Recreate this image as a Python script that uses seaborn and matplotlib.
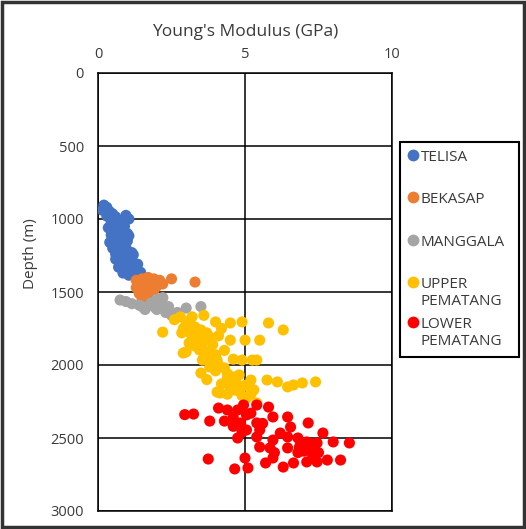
import matplotlib
matplotlib.use("Agg")
import matplotlib.pyplot as plt
import seaborn as sns
import pandas as pd
from matplotlib.patches import Rectangle
from matplotlib.lines import Line2D

# ---------------- data (Young's modulus GPa, depth m) ----------------
telisa_x = [0.2, 0.3, 0.15, 0.4, 0.5, 0.3, 0.6, 0.95, 1.05, 0.8, 0.45, 0.7, 0.9, 0.35, 0.6, 0.8,
            1.0, 1.05, 0.45, 0.7, 0.9, 1.0, 0.4, 0.6, 0.8, 0.95, 0.5, 0.7, 0.9, 1.15, 0.6, 0.8,
            1.0, 1.2, 0.6, 0.75, 0.95, 1.2, 1.35, 0.85, 1.05, 0.7, 1.3, 0.95, 1.15, 1.45, 1.3,
            0.85, 1.05, 1.45]
telisa_y = [905, 920, 940, 950, 965, 980, 985, 975, 1000, 1010, 1020, 1040, 1050, 1060, 1075, 1090,
            1100, 1115, 1110, 1130, 1140, 1150, 1160, 1170, 1180, 1195, 1200, 1210, 1220, 1230, 1240, 1250,
            1260, 1245, 1275, 1285, 1290, 1300, 1310, 1320, 1330, 1330, 1340, 1350, 1360, 1365, 1380,
            1370, 1385, 1395]

bekasap_x = [1.3, 1.5, 1.7, 1.9, 2.1, 1.4, 1.6, 1.8, 2.0, 2.2, 1.3, 1.5, 1.7, 1.9, 1.4, 1.6, 1.8,
             2.2, 1.5, 2.5, 3.3]
bekasap_y = [1420, 1410, 1400, 1410, 1420, 1440, 1450, 1440, 1460, 1445, 1470, 1480, 1475, 1490,
             1510, 1520, 1505, 1540, 1550, 1410, 1432]

manggala_x = [0.75, 0.95, 1.15, 1.5, 1.6, 1.8, 1.9, 2.0, 2.1, 2.2, 2.0, 2.3, 2.5, 2.7, 3.0, 3.5,
              1.4, 2.4]
manggala_y = [1555, 1565, 1580, 1600, 1620, 1575, 1600, 1550, 1580, 1540, 1620, 1640, 1660, 1640,
              1610, 1600, 1590, 1600]

upper_x = [2.2, 2.8, 3.2, 3.6, 4.0, 4.5, 4.9, 5.8, 6.3, 5.5, 5.0, 4.5, 2.85, 2.9, 3.45, 3.5, 4.05,
           4.9, 5.4, 4.4, 4.8, 5.2, 5.75, 6.1, 6.45, 6.65, 6.95, 7.4, 4.15, 4.65, 5.05, 5.4, 3.8,
           3.15, 3.1, 3.7, 3.8, 3.55, 5.25, 4.6, 3.0, 3.3, 3.5, 3.7, 3.2, 3.4, 3.6, 3.9, 3.3, 3.55,
           3.8, 4.0, 3.6, 3.9, 4.1, 4.3, 4.0, 4.4, 4.6, 4.2, 4.5, 4.8, 4.4, 4.9, 5.2, 3.1, 2.6, 2.9,
           4.2, 4.1, 4.3, 4.6, 3.0, 4.7, 5.0, 5.3, 4.05, 3.7]
upper_y = [1775, 1670, 1670, 1660, 1705, 1712, 1705, 1712, 1760, 1830, 1830, 1830, 1780, 1918, 1897,
           2055, 1966, 1966, 1966, 2090, 2068, 2103, 2103, 2116, 2150, 2137, 2123, 2116, 2192, 2171,
           2226, 2260, 1808, 1781, 1849, 1945, 2014, 1966, 1966, 2082, 1720, 1740, 1760, 1780, 1800,
           1820, 1840, 1860, 1870, 1890, 1910, 1930, 1950, 1980, 2000, 2020, 2040, 2060, 2090, 2130,
           2150, 2180, 2200, 2210, 2200, 1700, 1690, 1750, 1750, 1800, 1900, 1960, 1910, 2120, 2140,
           2170, 2185, 2100]

lower_x = [2.95, 3.25, 3.8, 3.75, 4.1, 4.4, 4.3, 4.75, 4.95, 5.4, 5.8, 4.75, 5.0, 4.65, 5.1, 5.95,
           6.45, 5.5, 6.2, 6.55, 7.15, 7.65, 8.0, 8.55, 8.25, 7.8, 7.45, 7.1, 6.65, 6.3, 5.95, 5.7,
           5.5, 5.85, 6.45, 6.85, 7.2, 7.3, 6.8, 7.1, 7.45, 5.05, 5.4, 4.85, 5.05, 5.4, 5.95, 6.45,
           6.9, 7.2, 7.0, 7.3, 6.8, 7.5, 4.6, 4.9, 5.2, 4.6, 5.6, 6.0]
lower_y = [2340, 2336, 2384, 2644, 2295, 2308, 2384, 2308, 2274, 2274, 2288, 2500, 2637, 2712, 2705,
           2356, 2356, 2445, 2466, 2425, 2397, 2466, 2527, 2534, 2651, 2651, 2664, 2664, 2671, 2699,
           2637, 2671, 2562, 2568, 2568, 2562, 2582, 2616, 2500, 2527, 2534, 2445, 2397, 2397, 2342,
           2493, 2514, 2493, 2540, 2560, 2590, 2540, 2600, 2600, 2420, 2460, 2330, 2360, 2400, 2600]

formations = ["TELISA", "BEKASAP", "MANGGALA", "UPPER\nPEMATANG", "LOWER\nPEMATANG"]
colors = ["#4472C4", "#ED7D31", "#A5A5A5", "#FFC000", "#FF0000"]

xs = [telisa_x, bekasap_x, manggala_x, upper_x, lower_x]
ys = [telisa_y, bekasap_y, manggala_y, upper_y, lower_y]
rows = []
for name, xv, yv in zip(formations, xs, ys):
    for a, b in zip(xv, yv):
        rows.append({"E": a, "Depth": b, "Formation": name})
df = pd.DataFrame(rows)

# ---------------- plotting ----------------
sns.set_style("white")
plt.rcParams["font.family"] = ["Open Sans", "DejaVu Sans"]
text_col = "#3a3a3a"
W, H = 526, 529

fig = plt.figure(figsize=(W / 100, H / 100), dpi=100)
ax = fig.add_axes([98 / W, 1 - 511 / H, (392 - 98) / W, (511 - 73) / H])

sns.scatterplot(data=df, x="E", y="Depth", hue="Formation", hue_order=formations,
                palette=dict(zip(formations, colors)), s=64, linewidth=0, alpha=1,
                ax=ax, zorder=3, legend=False)

ax.set_xlim(0, 10)
ax.set_ylim(3000, 0)
ax.set_xticks([0, 5, 10])
ax.set_yticks([0, 500, 1000, 1500, 2000, 2500, 3000])
ax.xaxis.tick_top()
ax.xaxis.set_label_position("top")
ax.set_xlabel("Young's Modulus (GPa)", fontsize=12.5, color=text_col, labelpad=8)
ax.set_ylabel("Depth (m)", fontsize=11, color=text_col)
ax.yaxis.set_label_coords(-0.205, 0.587)
ax.tick_params(axis="both", length=0, labelsize=10.5, labelcolor=text_col)
ax.tick_params(axis="x", pad=8)
ax.tick_params(axis="y", pad=10)

ax.grid(True, color="black", linewidth=1.1)
ax.set_axisbelow(True)
for sp in ax.spines.values():
    sp.set_visible(True)
    sp.set_color("black")
    sp.set_linewidth(1.1)

# ---------------- legend (manual, Excel-like even spacing) ----------------
fig.patches.append(Rectangle((400 / W, 1 - 357 / H), (519 - 400) / W, (357 - 142) / H,
                             transform=fig.transFigure, fill=False, edgecolor="black",
                             linewidth=1.5, zorder=5))
entry_y = [155, 197, 240, 282, 322]
for name, col, yy in zip(formations, colors, entry_y):
    fig.lines.append(Line2D([413 / W], [1 - yy / H], transform=fig.transFigure,
                            marker="o", markersize=8.5, markerfacecolor=col,
                            markeredgewidth=0, linestyle="none"))
    fig.text(421 / W, 1 - (yy - 5) / H, name, fontsize=11, color=text_col,
             ha="left", va="top", linespacing=1.2)

fig.patches.append(Rectangle((0.003, 0.003), 0.994, 0.994, transform=fig.transFigure,
                             fill=False, edgecolor="#333333", linewidth=2.5))

fig.savefig("out.png", dpi=100)
